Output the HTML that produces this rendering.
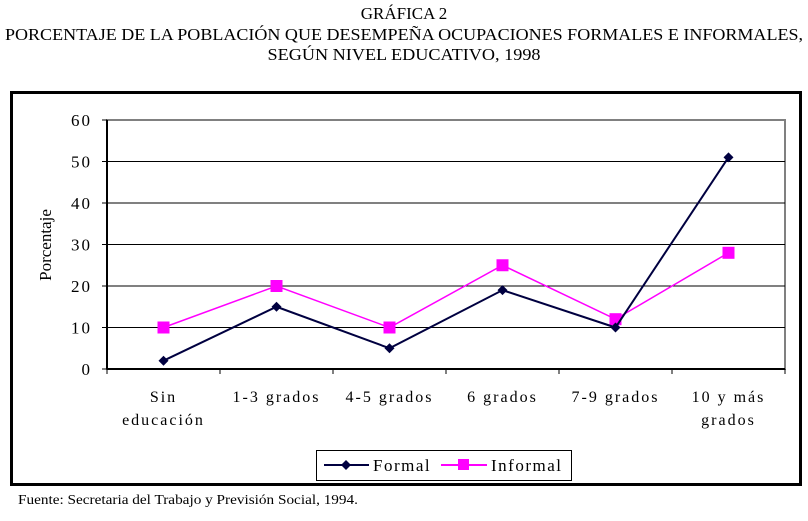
<!DOCTYPE html>
<html><head><meta charset="utf-8"><style>
body{margin:0;background:#fff;width:808px;height:516px;overflow:hidden}
svg{font-family:"Liberation Serif",serif}
</style></head><body>
<svg width="808" height="516" id="chart">
<text x="404" y="19" font-size="17" text-anchor="middle">GRÁFICA 2</text>
<text x="404" y="40" font-size="17" text-anchor="middle" textLength="798" lengthAdjust="spacingAndGlyphs">PORCENTAJE DE LA POBLACIÓN QUE DESEMPEÑA OCUPACIONES FORMALES E INFORMALES,</text>
<text x="404" y="60" font-size="17" text-anchor="middle" textLength="273" lengthAdjust="spacingAndGlyphs">SEGÚN NIVEL EDUCATIVO, 1998</text>
<rect x="11.5" y="92.5" width="789" height="392" fill="none" stroke="#000" stroke-width="3"/>
<g id="plot"></g>
<text transform="translate(51,245) rotate(-90)" font-size="17" text-anchor="middle">Porcentaje</text>
<g>
<rect x="316.5" y="450.5" width="255" height="30" fill="#fff" stroke="#000"/>
<line x1="324" y1="465" x2="369" y2="465" stroke="#000040" stroke-width="2"/>
<path d="M346 460 L351 465 L346 470 L341 465Z" fill="#000040"/>
<text x="373" y="471" font-size="17" letter-spacing="1.5">Formal</text>
<line x1="441" y1="465" x2="487" y2="465" stroke="#ff00ff" stroke-width="2"/>
<rect x="458" y="459" width="11" height="11" fill="#ff00ff"/>
<text x="491" y="471" font-size="17" letter-spacing="1.5">Informal</text>
</g>
<text x="18" y="504" font-size="14" textLength="340" lengthAdjust="spacingAndGlyphs">Fuente: Secretaria del Trabajo y Previsión Social, 1994.</text>
</svg>
<script>
const categories=[["Sin","educación"],["1-3 grados"],["4-5 grados"],["6 grados"],["7-9 grados"],["10 y más","grados"]];
const formalValues=[2,15,5,19,10,51];
const informalValues=[10,20,10,25,12,28];
const yTicks=[0,10,20,30,40,50,60];
const NS="http://www.w3.org/2000/svg";
const X0=107,X1=785,Y0=369,Y1=120,YMAX=60;
const g=document.getElementById('plot');
const bw=(X1-X0)/categories.length;
const xs=i=>X0+bw*(i+0.5);
const ys=v=>Y0-(v/YMAX)*(Y0-Y1);
function mk(t,a){const e=document.createElementNS(NS,t);for(const k in a)e.setAttribute(k,a[k]);g.appendChild(e);return e;}
const pa=mk('rect',{x:X0,y:Y1,width:X1-X0,height:Y0-Y1,fill:'#fff',stroke:'#808080','stroke-width':2});


yTicks.forEach(v=>{
  if(v>0&&v<YMAX){const l=mk('line',{x1:X0,x2:X1,y1:ys(v),y2:ys(v),stroke:'#000','stroke-width':1});
  
  }
  mk('line',{x1:X0-5,x2:X0,y1:ys(v),y2:ys(v),stroke:'#000'});
  const t=mk('text',{x:X0-15,y:ys(v)+6,'font-size':17,'text-anchor':'end','letter-spacing':2});
  t.textContent=v;
  
  
});
mk('line',{x1:X0,x2:X0,y1:Y1,y2:Y0,stroke:'#000','stroke-width':2});
mk('line',{x1:X0,x2:X1,y1:Y0,y2:Y0,stroke:'#000','stroke-width':2});
for(let i=0;i<=categories.length;i++)mk('line',{x1:X0+bw*i,x2:X0+bw*i,y1:Y0,y2:Y0+5,stroke:'#000'});
categories.forEach((c,i)=>{c.forEach((s,j)=>{
  const t=mk('text',{x:xs(i),y:402+j*23,'font-size':16,'text-anchor':'middle','letter-spacing':2});
  t.textContent=s;
  
  
});});
function series(vals,color,name,sq){
  const p=mk('polyline',{points:vals.map((v,i)=>xs(i)+','+ys(v)).join(' '),fill:'none',stroke:color,'stroke-width':sq?1.5:2});
  
  
  vals.forEach((v,i)=>{const x=xs(i),y=ys(v);let m;
    if(sq)m=mk('rect',{x:x-6,y:y-6,width:12,height:12,fill:color});
    else m=mk('path',{d:`M${x} ${y-5}L${x+5} ${y}L${x} ${y+5}L${x-5} ${y}Z`,fill:color});
    
    });
}
series(informalValues,'#ff00ff','informal',true);
series(formalValues,'#000040','formal',false);
</script>
</body></html>
